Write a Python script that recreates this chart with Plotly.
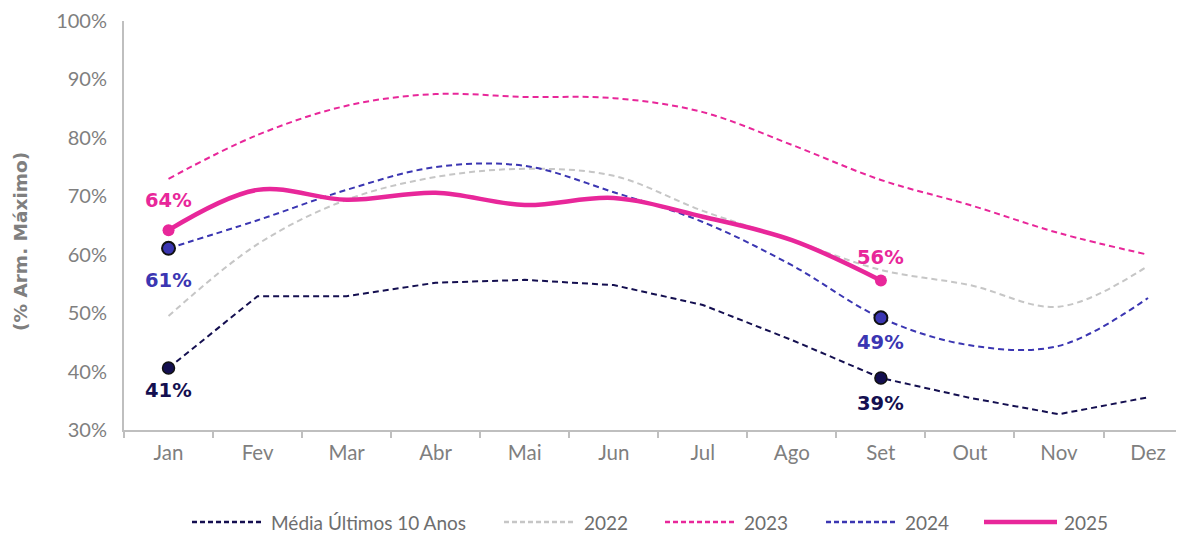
import plotly.graph_objects as go

meses = ["Jan", "Fev", "Mar", "Abr", "Mai", "Jun", "Jul", "Ago", "Set", "Out", "Nov", "Dez"]

media_10 = [40.6, 52.9, 52.9, 55.2, 55.7, 54.8, 51.4, 45.4, 38.9, 35.5, 32.7, 35.6]
s2022 = [49.5, 61.8, 69.4, 73.3, 74.7, 73.5, 67.5, 62.5, 57.4, 54.8, 51.1, 58.1]
s2023 = [73.0, 80.5, 85.5, 87.5, 87.0, 86.8, 84.4, 78.8, 72.8, 68.5, 63.7, 60.0]
s2024 = [61.1, 65.9, 71.1, 75.0, 75.2, 70.7, 65.6, 58.2, 49.2, 44.5, 44.4, 52.6]
s2025 = [64.2, 71.1, 69.4, 70.6, 68.5, 69.7, 66.5, 62.5, 55.6]

y_ticks = [30, 40, 50, 60, 70, 80, 90, 100]
y_tick_text = [f"{v}%" for v in y_ticks]

series_names = ["Média Últimos 10 Anos", "2022", "2023", "2024", "2025"]

C_MEDIA = "#140F50"
C_2022 = "#C6C6C6"
C_2023 = "#E8279A"
C_2024 = "#3B36B2"
C_2025 = "#E8279A"
colors = [C_MEDIA, C_2022, C_2023, C_2024, C_2025]

FONT = "Lato"
BOLD = "DejaVu Sans"
DASH = "6px,4px"
GRAY = "#7F7F7F"

# the page body adds an 8px offset, so the figure is 8px smaller than the window
OFF = 8
W, H = 1184 - OFF, 534 - OFF
ML, MR, MT, MB = 124 - OFF, 0, 21 - OFF, 104
PW, PH = W - ML - MR, H - MT - MB

def px_x(px):
    # px in window coordinates -> paper fraction
    return (px - OFF - ML) / PW

def px_y(py):
    return (H - MB - (py - OFF)) / PH

fig = go.Figure()

fig.add_trace(go.Scatter(x=meses, y=media_10, name=series_names[0], mode="lines",
                         line=dict(color=C_MEDIA, width=2, dash=DASH, shape="linear")))
fig.add_trace(go.Scatter(x=meses, y=s2022, name=series_names[1], mode="lines",
                         line=dict(color=C_2022, width=2, dash=DASH, shape="spline", smoothing=1)))
fig.add_trace(go.Scatter(x=meses, y=s2023, name=series_names[2], mode="lines",
                         line=dict(color=C_2023, width=2, dash=DASH, shape="spline", smoothing=1)))
fig.add_trace(go.Scatter(x=meses, y=s2024, name=series_names[3], mode="lines",
                         line=dict(color=C_2024, width=2, dash=DASH, shape="spline", smoothing=1)))
fig.add_trace(go.Scatter(x=meses[:len(s2025)], y=s2025, name=series_names[4], mode="lines",
                         line=dict(color=C_2025, width=4.5, shape="spline", smoothing=1)))

# highlighted points (Jan and Set)
idx = [0, 8]
fig.add_trace(go.Scatter(x=[meses[i] for i in idx], y=[media_10[i] for i in idx], mode="markers",
                         showlegend=False, hoverinfo="skip",
                         marker=dict(color=C_MEDIA, size=12, line=dict(color="#111111", width=1.5))))
fig.add_trace(go.Scatter(x=[meses[i] for i in idx], y=[s2024[i] for i in idx], mode="markers",
                         showlegend=False, hoverinfo="skip",
                         marker=dict(color=C_2024, size=13, line=dict(color="#111111", width=2))))
fig.add_trace(go.Scatter(x=[meses[i] for i in idx], y=[s2025[i] for i in idx], mode="markers",
                         showlegend=False, hoverinfo="skip",
                         marker=dict(color=C_2025, size=12)))

labels = [
    (media_10, 0, C_MEDIA, -22),
    (media_10, 8, C_MEDIA, -25),
    (s2024, 0, C_2024, -32),
    (s2024, 8, C_2024, -25),
    (s2025, 0, C_2025, 30),
    (s2025, 8, C_2025, 23),
]
for serie, i, col, shift in labels:
    fig.add_annotation(x=meses[i], y=serie[i], text=f"<b>{round(serie[i])}%</b>", showarrow=False,
                       yshift=shift, font=dict(family=BOLD, size=19.5, color=col))

# y-axis title
fig.add_annotation(xref="paper", yref="paper", x=px_x(20), y=px_y(242), text="<b>(% Arm. Máximo)</b>",
                   textangle=-90, showarrow=False, xanchor="center", yanchor="middle",
                   font=dict(family=BOLD, size=18.5, color=GRAY))

# legend (drawn below the plot, long line symbols as in the original)
leg_sym = [(192, 262), (504, 576), (665, 735), (826, 896), (984, 1057)]
leg_txt = [269, 582, 742, 903, 1062]
leg_y = px_y(522)
for k, name in enumerate(series_names):
    x0, x1 = leg_sym[k]
    solid = k == 4
    fig.add_shape(type="line", xref="paper", yref="paper", x0=px_x(x0), x1=px_x(x1), y0=leg_y, y1=leg_y,
                  line=dict(color=colors[k], width=4.5 if solid else 2.5, dash="solid" if solid else "5px,3px"))
    fig.add_annotation(xref="paper", yref="paper", x=px_x(leg_txt[k]), y=leg_y, text=name, showarrow=False,
                       xanchor="left", yanchor="middle", font=dict(family=FONT, size=19, color="#6E6E6E"))

fig.update_layout(
    width=W, height=H,
    margin=dict(l=ML, r=MR, t=MT, b=MB, autoexpand=False),
    paper_bgcolor="white", plot_bgcolor="white",
    font=dict(family=FONT, color=GRAY, size=19),
    showlegend=False,
    xaxis=dict(type="category", range=[-0.5, 11.404], showgrid=False, showline=True,
               linecolor="#BFBFBF", linewidth=2, ticks="outside", tickson="boundaries",
               ticklen=6, tickcolor="#BFBFBF", tickwidth=2, automargin=False,
               ticklabelstandoff=3,
               tickfont=dict(family=FONT, size=20.5, color=GRAY), fixedrange=True),
    yaxis=dict(range=[30, 100], tickvals=y_ticks, ticktext=y_tick_text, showgrid=False, zeroline=False,
               showline=True, linecolor="#BFBFBF", linewidth=2, ticks="", automargin=False,
               ticklabelstandoff=11,
               tickfont=dict(family=FONT, size=20, color=GRAY), fixedrange=True),
)

fig.write_html("out.html")
